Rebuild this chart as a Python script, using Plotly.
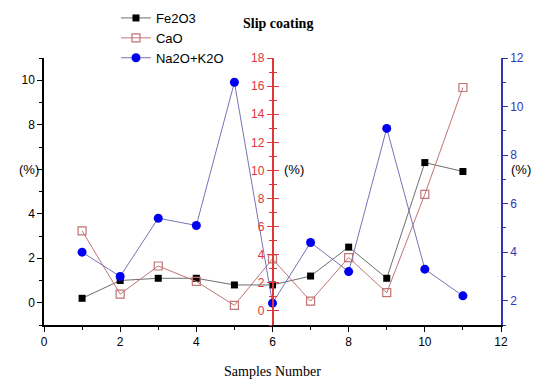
import plotly.graph_objects as go

samples = [1, 2, 3, 4, 5, 6, 7, 8, 9, 10, 11]
fe2o3 = [0.2, 1.0, 1.1, 1.1, 0.8, 0.8, 1.2, 2.5, 1.1, 6.3, 5.9]
cao = [5.7, 1.2, 3.2, 2.1, 0.4, 3.7, 0.7, 3.8, 1.3, 8.3, 15.9]
na2o_k2o = [4.0, 3.0, 5.4, 5.1, 11.0, 1.9, 4.4, 3.2, 9.1, 3.3, 2.2]

left_ticks = [0, 2, 4, 6, 8, 10]
left_labels = ["0", "2", "4", "", "8", "10"]

RED = "#e0353a"
BLUE = "#3434b8"
SANS = "Liberation Sans, Arial, sans-serif"
SERIF = "Liberation Serif, Times New Roman, serif"

fig = go.Figure()
fig.add_trace(go.Scatter(
    x=samples, y=fe2o3, name="Fe2O3", yaxis="y", mode="lines+markers",
    line=dict(color="#6e6e6e", width=1),
    marker=dict(symbol="square", size=7, color="black"),
))
fig.add_trace(go.Scatter(
    x=samples, y=cao, name="CaO", yaxis="y2", mode="lines+markers",
    line=dict(color="#c07474", width=1),
    marker=dict(symbol="square-open", size=8, color="#c07474", line=dict(width=1.2)),
))
fig.add_trace(go.Scatter(
    x=samples, y=na2o_k2o, name="Na2O+K2O", yaxis="y3", mode="lines+markers",
    line=dict(color="#7474b8", width=1),
    marker=dict(symbol="circle", size=9, color="#0000f0"),
))
# dummy trace so the inner-tick red axis is rendered
fig.add_trace(go.Scatter(x=[None], y=[None], yaxis="y4", showlegend=False, hoverinfo="skip"))

fig.update_layout(
    width=542, height=376,
    margin=dict(l=36, r=49, t=50, b=59, autoexpand=False),
    paper_bgcolor="white", plot_bgcolor="white",
    showlegend=True,
    legend=dict(
        x=0.1575, y=1.206, xanchor="left", yanchor="top",
        font=dict(family=SANS, size=13, color="black"),
        bgcolor="rgba(0,0,0,0)", tracegroupgap=0, itemwidth=30,
    ),
    xaxis=dict(
        range=[0, 12], domain=[0, 1], automargin=False,
        tickmode="linear", tick0=0, dtick=2,
        ticks="outside", ticklen=5, tickcolor="black", tickwidth=1,
        minor=dict(ticks="outside", ticklen=3, dtick=1, tick0=0, tickcolor="black"),
        showline=True, linecolor="black", linewidth=1.5,
        showgrid=False, zeroline=False,
        tickfont=dict(family=SANS, size=12, color="black"),
    ),
    yaxis=dict(
        range=[-1, 11], automargin=False,
        tickmode="array", tickvals=left_ticks, ticktext=left_labels,
        ticks="outside", ticklen=5, tickcolor="black",
        minor=dict(ticks="outside", ticklen=3, dtick=1, tick0=0, tickcolor="black"),
        showline=True, linecolor="black", linewidth=1.5,
        showgrid=False, zeroline=False,
        tickfont=dict(family=SANS, size=12, color="black"),
    ),
    yaxis2=dict(
        range=[-1, 18], overlaying="y", anchor="free", position=0.5, side="left",
        autoshift=False, automargin=False,
        tickmode="linear", tick0=0, dtick=2,
        ticks="outside", ticklen=5, tickcolor=RED,
        minor=dict(ticks="outside", ticklen=3, dtick=1, tick0=0, tickcolor=RED),
        showline=True, linecolor=RED, linewidth=1.5,
        showgrid=False, zeroline=False,
        tickfont=dict(family=SANS, size=12, color=RED),
    ),
    yaxis4=dict(
        range=[-1, 18], overlaying="y", anchor="free", position=0.5, side="left",
        autoshift=False, automargin=False,
        tickmode="linear", tick0=0, dtick=2,
        ticks="inside", ticklen=5, tickcolor=RED,
        minor=dict(ticks="inside", ticklen=3, dtick=1, tick0=0, tickcolor=RED),
        showline=False, showticklabels=False,
        showgrid=False, zeroline=False,
    ),
    yaxis3=dict(
        range=[1, 12], overlaying="y", anchor="x", side="right", automargin=False,
        tickmode="linear", tick0=2, dtick=2,
        ticks="outside", ticklen=5, tickcolor=BLUE,
        minor=dict(ticks="outside", ticklen=3, dtick=1, tick0=0, tickcolor=BLUE),
        showline=True, linecolor=BLUE, linewidth=1.5,
        showgrid=False, zeroline=False,
        tickfont=dict(family=SANS, size=12, color=BLUE),
    ),
)

fig.add_annotation(text="<b>Slip coating</b>", xref="paper", yref="paper",
                   x=0.512, y=1.13, yanchor="middle", showarrow=False,
                   font=dict(family=SERIF, size=14, color="black"))
fig.add_annotation(text="Samples Number", xref="paper", yref="paper",
                   x=0.5, y=-0.175, yanchor="middle", showarrow=False,
                   font=dict(family=SERIF, size=14, color="black"))
fig.add_annotation(text="(%)", xref="paper", yref="y", x=-0.058, y=6,
                   showarrow=False, font=dict(family=SANS, size=13, color="black"))
fig.add_annotation(text="(%)", xref="paper", yref="y", x=0.548, y=6,
                   showarrow=False, font=dict(family=SANS, size=13, color="black"))
fig.add_annotation(text="(%)", xref="paper", yref="y", x=1.07, y=6,
                   showarrow=False, font=dict(family=SANS, size=13, color="black"))

fig.write_html("out.html")
